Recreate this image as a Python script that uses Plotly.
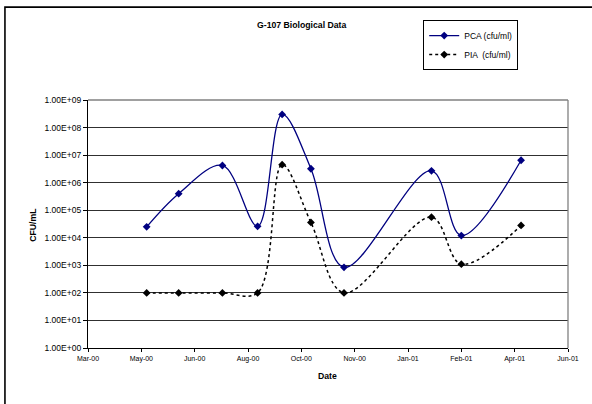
import plotly.graph_objects as go

dates = ["2000-05-09", "2000-06-08", "2000-07-19", "2000-08-21", "2000-09-13",
         "2000-10-10", "2000-11-10", "2001-01-31", "2001-02-28", "2001-04-25"]
pca = [2.5e4, 4.0e5, 4.2e6, 2.6e4, 3.0e8, 3.2e6, 8.5e2, 2.7e6, 1.2e4, 6.5e6]
pia = [1.0e2, 1.0e2, 1.0e2, 1.0e2, 4.5e6, 3.6e4, 1.0e2, 5.6e4, 1.1e3, 2.8e4]

x_tickvals = ["2000-03-15", "2000-05-04", "2000-06-23", "2000-08-12", "2000-10-01",
              "2000-11-20", "2001-01-09", "2001-02-28", "2001-04-19", "2001-06-08"]
x_ticktext = ["Mar-00", "May-00", "Jun-00", "Aug-00", "Oct-00",
              "Nov-00", "Jan-01", "Feb-01", "Apr-01", "Jun-01"]
y_tickvals = [1e0, 1e1, 1e2, 1e3, 1e4, 1e5, 1e6, 1e7, 1e8, 1e9]
y_ticktext = ["1.00E+00", "1.00E+01", "1.00E+02", "1.00E+03", "1.00E+04",
              "1.00E+05", "1.00E+06", "1.00E+07", "1.00E+08", "1.00E+09"]

FONT = "Liberation Sans, Arial, sans-serif"
PW, PH = 479.7, 248.3  # plot area size in px
L, B = 88, 348.3       # plot area left / bottom in px

fig = go.Figure()
fig.add_trace(go.Scatter(
    x=dates, y=pca, name="PCA (cfu/ml)", mode="lines+markers",
    line=dict(color="#000080", width=1.3, shape="spline", smoothing=1.0),
    marker=dict(symbol="diamond", size=6, color="#000080"),
))
fig.add_trace(go.Scatter(
    x=dates, y=pia, name="PIA  (cfu/ml)", mode="lines+markers",
    line=dict(color="black", width=1.5, shape="spline", smoothing=1.0, dash="dot"),
    marker=dict(symbol="diamond", size=6, color="black"),
))

fig.update_layout(
    width=592, height=404,
    margin=dict(l=88, r=24.3, t=100, b=55.7),
    paper_bgcolor="white", plot_bgcolor="white",
    font=dict(family=FONT, color="black", size=8),
    showlegend=True,
    legend=dict(
        x=(423 - L) / PW, y=(B - 20) / PH, xanchor="left", yanchor="top",
        bordercolor="black", borderwidth=1, bgcolor="white",
        font=dict(family=FONT, size=8.5, color="black"),
        tracegroupgap=0, itemwidth=30,
    ),
    xaxis=dict(
        type="date", range=["2000-03-15", "2001-06-08"],
        tickvals=x_tickvals, ticktext=x_ticktext,
        tickfont=dict(family=FONT, size=7, color="black"),
        showgrid=False, zeroline=False,
        showline=True, linecolor="black", linewidth=1.3,
        ticks="outside", ticklen=3, tickcolor="black",
    ),
    yaxis=dict(
        type="log", range=[0, 9],
        tickvals=y_tickvals, ticktext=y_ticktext,
        tickfont=dict(family=FONT, size=8.5, color="black"),
        showgrid=True, gridcolor="#303030", gridwidth=1,
        zeroline=False,
        showline=True, linecolor="black", linewidth=1.3,
        ticks="outside", ticklen=4, tickcolor="black",
    ),
    shapes=[
        dict(type="line", xref="paper", yref="paper", x0=0, x1=1, y0=1, y1=1,
             line=dict(color="#808080", width=1.3), layer="above"),
        dict(type="line", xref="paper", yref="paper", x0=1, x1=1, y0=0, y1=1,
             line=dict(color="#808080", width=1.3), layer="above"),
        dict(type="rect", xref="paper", yref="paper",
             x0=(5 - L) / PW, x1=1.2, y0=-0.4, y1=(B - 7) / PH,
             line=dict(color="black", width=1.6), fillcolor="rgba(0,0,0,0)", layer="above"),
    ],
    annotations=[
        dict(text="<b>G-107 Biological Data</b>", xref="paper", yref="paper",
             x=(301.7 - L) / PW, y=(B - 25) / PH, showarrow=False,
             xanchor="center", yanchor="middle",
             font=dict(family=FONT, size=8.7, color="black")),
        dict(text="<b>CFU/mL</b>", xref="paper", yref="paper",
             x=(33 - L) / PW, y=(B - 225) / PH, showarrow=False,
             textangle=-90, xanchor="center", yanchor="middle",
             font=dict(family=FONT, size=8.7, color="black")),
        dict(text="<b>Date</b>", xref="paper", yref="paper",
             x=(327 - L) / PW, y=(B - 376) / PH, showarrow=False,
             xanchor="center", yanchor="middle",
             font=dict(family=FONT, size=8.7, color="black")),
    ],
)

fig.write_html("out.html", config={"displayModeBar": False},
               post_script="document.body.style.margin='0';")
